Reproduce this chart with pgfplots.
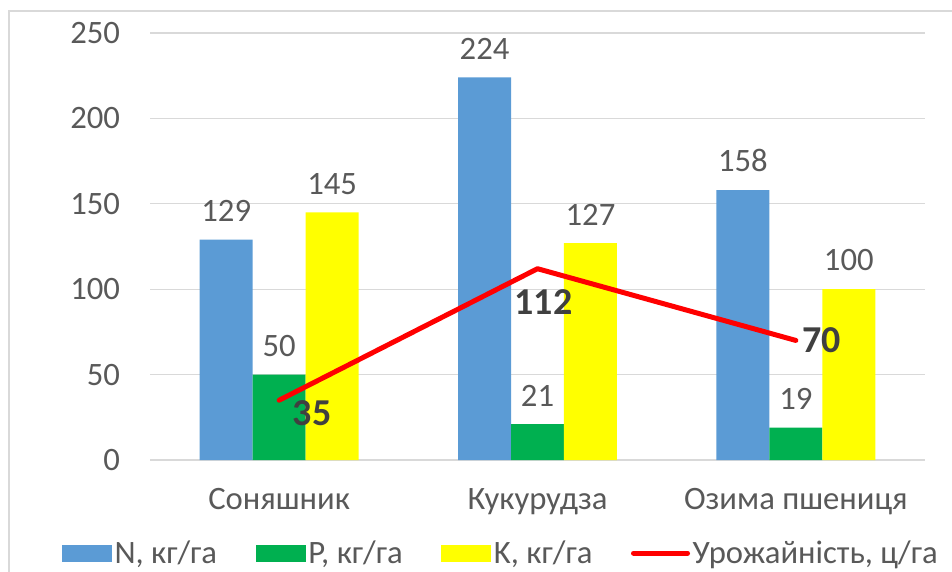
\documentclass[border=0pt]{standalone}
\usepackage{pgfplots}
\pgfplotsset{compat=1.18}
\usepackage{fontspec}
\setmainfont{Carlito}
\definecolor{cN}{HTML}{5B9BD5}
\definecolor{cP}{HTML}{00B050}
\definecolor{cK}{HTML}{FFFF00}
\definecolor{gridc}{HTML}{D9D9D9}
\definecolor{txt}{HTML}{595959}
\definecolor{bold}{HTML}{404040}
\begin{document}
\begin{tikzpicture}
\useasboundingbox (0pt,0pt) rectangle (714pt,428.25pt);
\draw[gridc, line width=1pt] (6.75pt,-5pt) -- (6.75pt,420pt) -- (720pt,420pt);
\begin{axis}[
  at={(112.5pt,83.25pt)}, anchor=south west,
  scale only axis, width=581.25pt, height=320.25pt,
  xmin=-0.5, xmax=2.5, ymin=0, ymax=250,
  xtick={0,1,2}, xticklabels={Соняшник,Кукурудза,Озима пшениця},
  ytick={0,50,100,150,200,250},
  axis line style={draw=none}, tick style={draw=none},
  ymajorgrids, grid style={gridc, line width=1pt},
  /pgf/number format/assume math mode=true,
  ticklabel style={font=\fontsize{24.5}{29}\selectfont, text=txt},
  yticklabel style={anchor=east, xshift=-19pt},
  xticklabel style={anchor=base, yshift=-37pt},
  clip=false,
  every node near coord/.append style={font=\fontsize{24.5}{29}\selectfont, text=txt, anchor=south, yshift=10pt},
  legend columns=4,
  legend style={draw=none, fill=none, at={(axis description cs:0.453,-0.218)}, anchor=center,
    font=\fontsize{24.5}{29}\selectfont, text=txt,
    /tikz/every even column/.append style={column sep=27pt},
    nodes={inner xsep=2pt}},
]
\addplot[ybar, bar width=0.205, bar shift=0, fill=cN, draw=none, nodes near coords,
  legend image code/.code={\fill[cN] (0pt,-6.4pt) rectangle (37.5pt,6.4pt);}]
  coordinates {(-0.205,129) (0.795,224) (1.795,158)};
\addlegendentry{N, кг/га}
\addplot[ybar, bar width=0.205, bar shift=0, fill=cP, draw=none, nodes near coords,
  legend image code/.code={\fill[cP] (0pt,-6.4pt) rectangle (37.5pt,6.4pt);}]
  coordinates {(0,50) (1,21) (2,19)};
\addlegendentry{P, кг/га}
\addplot[ybar, bar width=0.205, bar shift=0, fill=cK, draw=none, nodes near coords,
  legend image code/.code={\fill[cK] (0pt,-6.4pt) rectangle (37.5pt,6.4pt);}]
  coordinates {(0.205,145) (1.205,127) (2.205,100)};
\addlegendentry{K, кг/га}
\addplot[red, line width=3.75pt, line cap=round, line join=round, mark=none,
  legend image code/.code={\draw[red, line width=3.75pt, line cap=round] (0pt,0pt) -- (40.5pt,0pt);}]
  coordinates {(0,35) (1,112) (2,70)};
\addlegendentry{Урожайність, ц/га}
\node[font=\bfseries\fontsize{28.5}{33}\selectfont, text=bold] at (axis cs:0.128,27.5) {35};
\node[font=\bfseries\fontsize{28.5}{33}\selectfont, text=bold] at (axis cs:1.023,92.5) {112};
\node[font=\bfseries\fontsize{28.5}{33}\selectfont, text=bold] at (axis cs:2.1,70.3) {70};
\end{axis}
\end{tikzpicture}
\end{document}
